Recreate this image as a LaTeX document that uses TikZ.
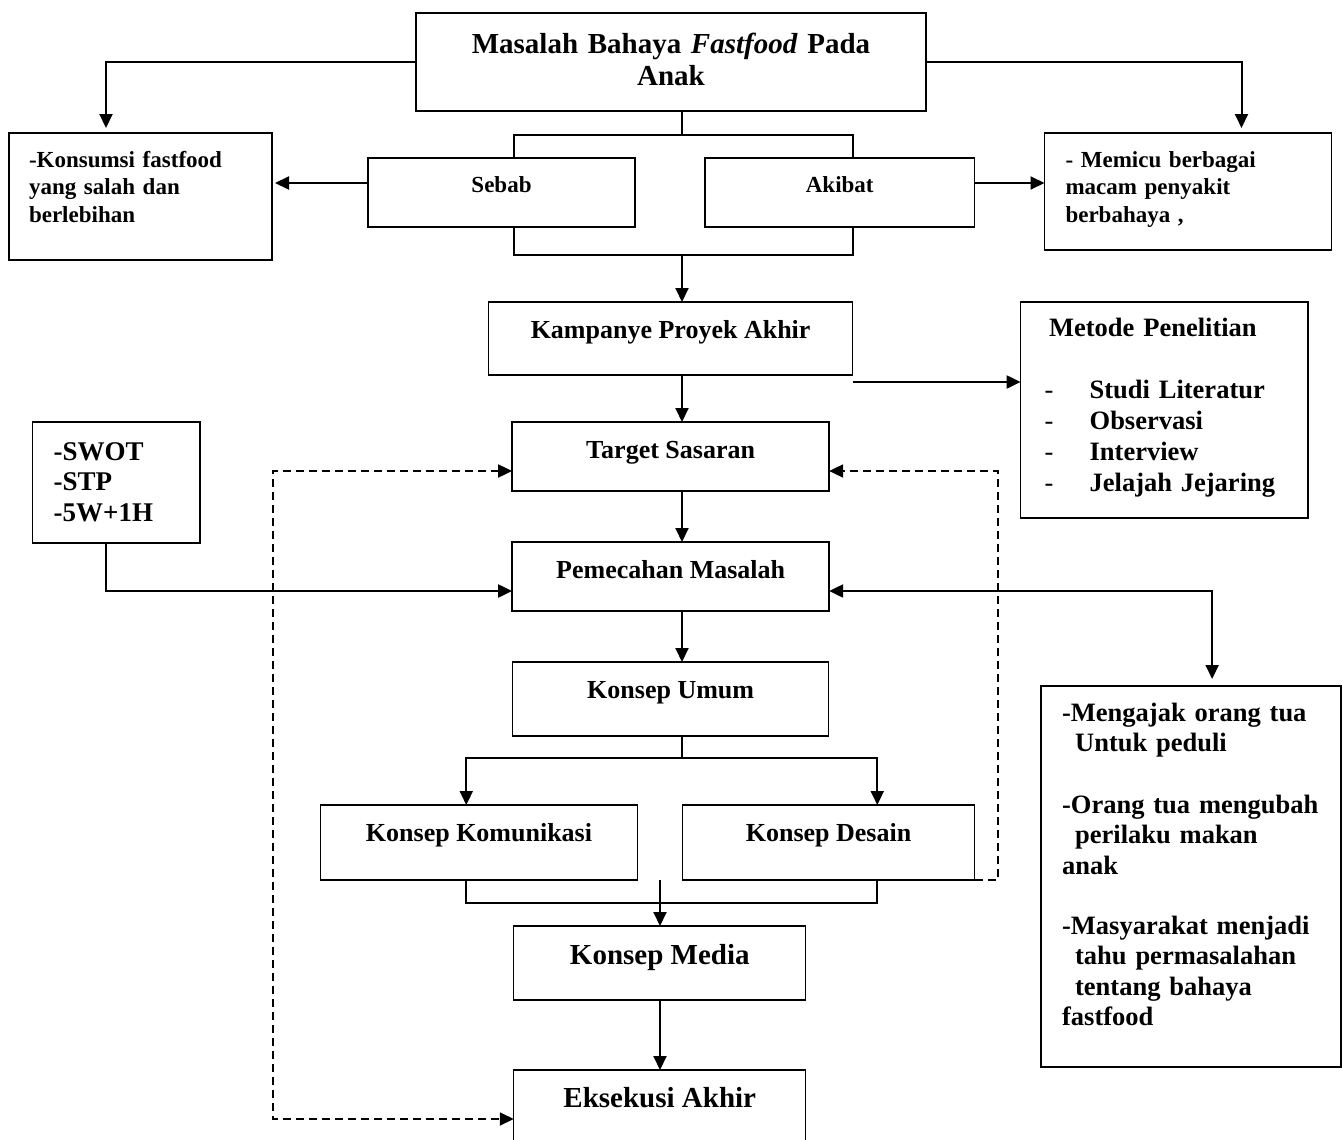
\documentclass[tikz,border=0pt]{standalone}
\usepackage{fontspec}
\setmainfont{Liberation Serif}
\usetikzlibrary{arrows.meta, positioning, calc}

\begin{document}
\begin{tikzpicture}[
    x=1pt, y=-1pt,
    plainbox/.style={rectangle, draw, line width=1.4pt, inner ysep=0pt, outer sep=0pt, font=\fontsize{26}{31}\selectfont\bfseries},
    stage/.style={plainbox, align=center, inner xsep=0pt},
    note/.style={plainbox, align=left, inner xsep=21pt},
    smalltext/.style={font=\fontsize{23}{27.5}\selectfont\bfseries},
    bigtext/.style={font=\fontsize{29}{32}\selectfont\bfseries},
    listtext/.style={font=\fontsize{26.5}{30.5}\selectfont\bfseries},
    link/.style={line width=2pt},
    arrow/.style={-{Triangle[length=14pt, width=13pt]}, line width=2pt},
    biarrow/.style={{Triangle[length=14pt, width=13pt]}-{Triangle[length=14pt, width=13pt]}, line width=2pt},
    dasharrow/.style={arrow, line width=1.8pt, dash pattern=on 8pt off 5pt},
    dashbiarrow/.style={biarrow, line width=1.8pt, dash pattern=on 8pt off 5pt}
]
\useasboundingbox (0,0) rectangle (1342,1140);

% Problem
\node[stage, bigtext, text width=510pt, text height=41pt, text depth=57pt] (masalah) at (671,62) {Masalah Bahaya \textit{Fastfood} Pada\\Anak};

% Cause and effect
\node[stage, smalltext, below=47pt of masalah, xshift=-169.5pt, minimum width=267pt, text height=34pt, text depth=35pt] (sebab) {Sebab};
\node[stage, smalltext, right=70pt of sebab, minimum width=269.5pt, text height=34pt, text depth=35pt] (akibat) {Akibat};
\node[note, smalltext, left=96pt of sebab, yshift=-4pt, text width=223pt, inner xsep=20pt, text height=34pt, text depth=93pt] (kons) {-Konsumsi fastfood\\yang salah dan\\berlebihan};
\node[note, smalltext, right=70pt of akibat, yshift=1pt, text width=245pt, text height=34pt, text depth=83pt] (memi) {- Memicu berbagai\\macam penyakit\\berbahaya ,};

% Main column
\node[stage, below=75pt of $(sebab.south)!0.5!(akibat.south)$, minimum width=364pt, text height=36pt, text depth=37pt] (kamp) {Kampanye Proyek Akhir};
\node[stage, below=47pt of kamp, minimum width=317pt, text height=36pt, text depth=33pt] (targ) {Target Sasaran};
\node[stage, below=51pt of targ, minimum width=317pt, text height=36pt, text depth=33pt] (pmc) {Pemecahan Masalah};
\node[stage, below=51pt of pmc, minimum width=316pt, text height=36pt, text depth=38pt] (umum) {Konsep Umum};
\node[stage, below=69pt of umum, xshift=-191.6pt, minimum width=316.5pt, text height=36pt, text depth=39pt] (komu) {Konsep Komunikasi};
\node[stage, right=45pt of komu, minimum width=292.5pt, text height=36pt, text depth=39pt] (desa) {Konsep Desain};
\node[stage, bigtext, below=46pt of $(komu.south)!0.5!(desa.south)$, xshift=6pt, minimum width=292pt, text height=38pt, text depth=36pt] (media) {Konsep Media};
\node[stage, bigtext, below=70pt of media, minimum width=292pt, text height=37pt, text depth=37pt] (eksk) {Eksekusi Akhir};

% Side boxes
\node[note, right=168pt of kamp.north east, anchor=north west, text width=239.5pt, inner xsep=24pt, text height=34pt, text depth=182pt, font=\fontsize{26.5}{31}\selectfont\bfseries] (meto) {\hspace*{4.5pt}Metode Penelitian\\[31pt]
  \makebox[45pt][l]{\mdseries-}Studi Literatur\\
  \makebox[45pt][l]{\mdseries-}Observasi\\
  \makebox[45pt][l]{\mdseries-}Interview\\
  \makebox[45pt][l]{\mdseries-}Jelajah Jejaring};
\node[note, left=312pt of targ.north west, anchor=north east, text width=125.5pt, text height=38pt, text depth=83pt, font=\fontsize{27}{30.5}\selectfont\bfseries] (swot) {-SWOT\\-STP\\-5W+1H};
\node[note, listtext, below right=75pt and 212pt of pmc.south east, text width=258pt, text height=35pt, text depth=346pt] (menga) {-Mengajak orang tua\\
  \hspace*{13pt}Untuk peduli\\[31pt]
  -Orang tua mengubah\\
  \hspace*{13pt}perilaku makan\\
  anak\\[29.5pt]
  -Masyarakat menjadi\\
  \hspace*{13pt}tahu permasalahan\\
  \hspace*{13pt}tentang bahaya\\
  fastfood};

% Helper coordinates
\coordinate (spine) at (682,0);
\coordinate (mspine) at (660,0);
\coordinate (lfb) at (273,0);
\coordinate (rfb) at (998,0);
\coordinate (tbar) at ($(masalah.south -| spine)!0.5!(sebab.north -| spine)$);
\coordinate (bbar) at ($(sebab.south -| spine)+(0,28)$);
\coordinate (ubar) at ($(umum.south -| spine)+(0,22)$);
\coordinate (kbar) at ($(komu.south -| mspine)+(0,23)$);
\coordinate (sebo) at ([yshift=9.5pt]sebab.west);
\coordinate (akbo) at ([yshift=9.5pt]akibat.east);
\coordinate (kmpo) at ([yshift=-7pt]kamp.south east);
\coordinate (pmci) at ([yshift=-14.5pt]pmc.west);
\coordinate (pmco) at ([yshift=-14.5pt]pmc.east);
\coordinate (tgin) at ([yshift=-14.5pt]targ.west);
\coordinate (tgout) at ([yshift=-14.5pt]targ.east);
\coordinate (ekin) at ([yshift=-12pt]eksk.west);

% Arrows
\draw[arrow, shorten >=5pt] (masalah.west) -| ([xshift=97pt]kons.north west);
\draw[arrow, shorten >=5pt] (masalah.east) -| ([xshift=197pt]memi.north west);
\draw[link] (masalah.south -| spine) -- (tbar);
\draw[link] ([xshift=146pt]sebab.north west) |- (tbar) -| ([xshift=148pt]akibat.north west);
\draw[arrow, shorten >=3pt] (sebo) -- (sebo -| kons.east);
\draw[arrow] (akbo) -- (akbo -| memi.west);
\draw[link] ([xshift=146pt]sebab.south west) |- (bbar) -| ([xshift=148pt]akibat.south west);
\draw[arrow] (bbar) -- (kamp.north -| spine);
\draw[arrow] (kamp.south -| spine) -- (targ.north -| spine);
\draw[arrow] (kmpo) -- (kmpo -| meto.west);
\draw[arrow] (targ.south -| spine) -- (pmc.north -| spine);
\draw[arrow] (swot.south west) ++(73.5,0) |- (pmci);
\draw[biarrow, shorten >=7pt] (pmco) -| ([xshift=171pt]menga.north west);
\draw[arrow] (pmc.south -| spine) -- (umum.north -| spine);
\draw[link] (umum.south -| spine) -- (ubar);
\draw[arrow] (ubar) -| ([xshift=145.5pt]komu.north west);
\draw[arrow] (ubar) -| ([xshift=195pt]desa.north west);
\draw[link] ([xshift=145.5pt]komu.south west) |- (kbar) -| ([xshift=195pt]desa.south west);
\draw[arrow] (komu.south -| mspine) -- (media.north -| mspine);
\draw[arrow] (media.south -| mspine) -- (eksk.north -| mspine);
\draw[dashbiarrow] (tgin) -| (lfb |- ekin) -- (ekin);
\draw[dasharrow] (desa.south east) -| (rfb |- tgout) -- (tgout);
\end{tikzpicture}
\end{document}
